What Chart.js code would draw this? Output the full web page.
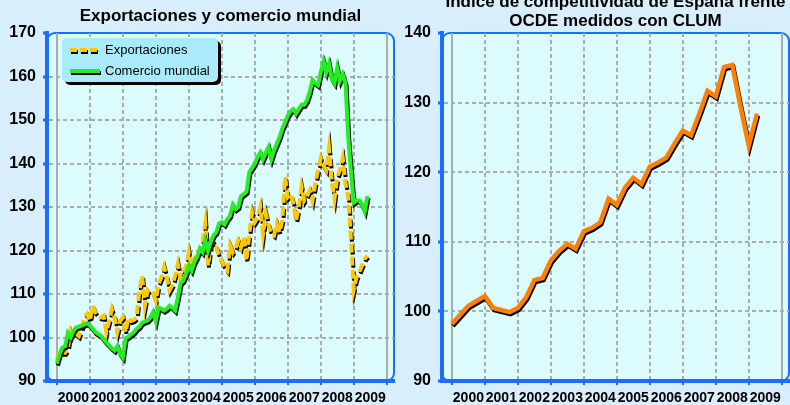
<!DOCTYPE html>
<html>
<head>
<meta charset="utf-8">
<script src="https://cdn.jsdelivr.net/npm/chart.js@4.4.0/dist/chart.umd.min.js"></script>
<style>
  body { margin: 0; background: #d8eefa; }
  .panel { position: absolute; top: 0; width: 395px; height: 405px; }
</style>
</head>
<body>
<div class="panel" style="left:0"><canvas id="exportChart" width="395" height="405"></canvas></div>
<div class="panel" style="left:395px"><canvas id="clumChart" width="395" height="405"></canvas></div>
<script>
// Year labels (placed in the middle of each year)
const YEARS = ['2000', '2001', '2002', '2003', '2004', '2005', '2006', '2007', '2008', '2009'];

// Monthly indices, Jan 2000 - Jun 2009
const exportaciones = [
    94.6, 97.3, 96.5, 96.5, 97.5, 101.5, 100.0, 100.8, 100.3, 102.0, 104.6, 105.4,
    103.8, 107.3, 105.8, 105.0, 104.6, 105.0, 101.2, 103.8, 106.5, 104.6, 101.2, 103.8,
    104.6, 101.2, 104.6, 103.8, 104.0, 104.6, 110.8, 114.2, 107.3, 110.8, 110.0, 110.2,
    108.5, 112.3, 113.8, 116.2, 113.8, 110.8, 112.0, 114.2, 116.9, 113.5, 115.0, 116.5,
    119.6, 116.2, 118.0, 119.6, 119.6, 121.9, 126.2, 116.5, 121.5, 121.9, 120.8, 118.8,
    117.5, 116.2, 115.4, 121.2, 119.6, 120.5, 122.3, 120.8, 123.1, 117.7, 123.8, 128.8,
    126.5, 127.5, 130.0, 123.8, 128.5, 125.8, 124.0, 123.5, 126.2, 124.2, 126.9, 136.9,
    132.3, 133.0, 131.0, 126.9, 130.0, 134.6, 131.5, 132.5, 133.8, 131.5, 135.4, 138.5,
    141.2, 139.5, 138.5, 143.5, 135.8, 131.9, 136.9, 138.5, 141.2, 135.4, 132.3, 122.3,
    111.0, 113.8, 115.0, 116.5, 118.1, 118.8
];
const comercioMundial = [
    94.0, 96.2, 97.7, 98.0, 101.0, 100.0, 101.5, 102.3, 102.5, 102.7, 103.0, 103.3,
    102.8, 102.0, 101.2, 100.8, 100.4, 99.6, 98.8, 98.2, 97.5, 97.0, 98.0, 96.2,
    95.4, 99.8, 100.2, 100.7, 101.2, 102.0, 102.5, 103.4, 103.7, 103.9, 104.6, 105.8,
    103.8, 106.9, 106.6, 106.2, 106.6, 107.3, 106.8, 106.2, 109.2, 112.5, 113.1, 114.6,
    116.5, 115.4, 117.3, 118.5, 120.4, 119.6, 122.3, 120.0, 122.0, 123.5, 124.2, 126.2,
    126.5, 126.0, 127.2, 128.0, 130.5, 129.5, 130.0, 132.5, 133.0, 133.5, 138.0, 139.0,
    140.0, 141.5, 142.5, 141.0, 142.5, 143.8, 141.0, 143.0, 144.5, 146.0, 148.0, 149.5,
    151.0, 152.0, 152.5, 151.5, 152.5, 153.5, 153.5, 154.5, 156.5, 159.2, 158.5, 158.0,
    161.0, 163.5, 161.0, 163.0, 159.5, 158.5, 162.0, 159.0, 160.5, 158.5, 146.0, 138.0,
    131.0, 131.5, 131.5, 130.5, 129.0, 132.5
];

// Quarterly index, 2000Q1 - 2009Q2
const competitividad = [
    98.2, 99.5, 100.8, 101.5, 102.2, 100.5, 100.2, 99.9,
    100.5, 102.0, 104.5, 104.8, 107.3, 108.7, 109.7, 109.0,
    111.5, 112.0, 112.8, 116.2, 115.3, 117.8, 119.2, 118.3,
    120.8, 121.4, 122.1, 124.1, 126.0, 125.3, 128.4, 131.7,
    130.9, 135.1, 135.4, 129.4, 123.8, 128.4
];

const FONT = "'Liberation Sans', Arial, sans-serif";
const BLUE = '#1a6dff';
const GRID = '#a8aeb0';
const PLOT_BG = '#dbfbfd';
const LEGEND_BG = '#a9ebfb';

// monthly / quarterly points onto a year axis
const perMonth = arr => arr.map((v, i) => ({ x: 2000 + i / 12, y: v }));
const perQuarter = arr => arr.map((v, i) => ({ x: 2000 + i / 4, y: v }));

// Plot background + thin rounded frame
const frame = {
    id: 'frame',
    beforeDraw(chart) {
        const { ctx, chartArea: a } = chart;
        ctx.save();
        ctx.beginPath();
        ctx.roundRect(a.left, a.top, a.right - a.left, a.bottom - a.top, 8);
        ctx.fillStyle = PLOT_BG;
        ctx.fill();
        ctx.lineWidth = 2;
        ctx.strokeStyle = BLUE;
        ctx.stroke();
        ctx.restore();
    }
};

// Hard black drop shadow under every line
const lineShadow = {
    id: 'lineShadow',
    beforeDatasetDraw(chart) {
        const ctx = chart.ctx;
        ctx.save();
        ctx.shadowColor = '#000';
        ctx.shadowOffsetX = 1;
        ctx.shadowOffsetY = 2;
        ctx.shadowBlur = 0;
    },
    afterDatasetDraw(chart) {
        chart.ctx.restore();
    }
};

// Boxed legend in the upper left of the plot
const boxLegend = {
    id: 'boxLegend',
    afterDraw(chart) {
        const { ctx, chartArea: a } = chart;
        const x = a.left + 15, y = a.top + 5, w = 156, h = 44;
        ctx.save();
        ctx.fillStyle = '#000';
        ctx.beginPath();
        ctx.roundRect(x + 3, y + 3, w, h, 5);
        ctx.fill();
        ctx.fillStyle = LEGEND_BG;
        ctx.beginPath();
        ctx.roundRect(x, y, w, h, 5);
        ctx.fill();
        chart.data.datasets.forEach((ds, i) => {
            const cy = y + 12 + i * 21;
            ctx.save();
            ctx.shadowColor = '#000';
            ctx.shadowOffsetX = 1;
            ctx.shadowOffsetY = 2;
            ctx.strokeStyle = ds.borderColor;
            ctx.lineWidth = 4;
            ctx.setLineDash(ds.borderDash ? [7, 3] : []);
            ctx.beginPath();
            ctx.moveTo(x + 8, cy);
            ctx.lineTo(x + 38, cy);
            ctx.stroke();
            ctx.restore();
            ctx.fillStyle = '#000';
            ctx.font = '13px ' + FONT;
            ctx.textBaseline = 'middle';
            ctx.fillText(ds.label, x + 43, cy);
        });
        ctx.restore();
    }
};

function yearAxis() {
    return {
        type: 'linear',
        min: 1999.7,
        max: 2010.22,
        afterBuildTicks: s => { s.ticks = YEARS.map(y => ({ value: Number(y) + 0.5 })); },
        afterFit: s => { s.height = 24; },
        ticks: {
            callback: (v, i) => YEARS[i],
            font: { family: FONT, size: 14, weight: 'bold' },
            color: '#000',
            padding: 5,
            maxRotation: 0,
            autoSkip: false
        },
        grid: {
            offset: true,
            color: GRID,
            lineWidth: 2,
            tickLength: 4,
            tickColor: BLUE,
            tickWidth: 2
        },
        border: {
            color: BLUE,
            width: 4,
            dash: c => (c.index > 0 && c.index < YEARS.length) ? [4, 3] : []
        }
    };
}

function valueAxis(min, max) {
    return {
        min: min,
        max: max,
        afterFit: s => { s.width = 47; },
        ticks: {
            stepSize: 10,
            font: { family: FONT, size: 16, weight: 'bold' },
            color: '#000',
            padding: 7
        },
        grid: {
            color: c => (c.tick && c.tick.value > min && c.tick.value < max) ? GRID : 'rgba(0,0,0,0)',
            lineWidth: 2,
            tickLength: 4,
            tickColor: BLUE,
            tickWidth: 3
        },
        border: { color: BLUE, width: 4, dash: [4, 3] }
    };
}

function titleOpts(text, top, bottom) {
    return {
        display: true,
        text: text,
        fullSize: false,
        color: '#000',
        font: { family: FONT, size: 17, weight: 'bold', lineHeight: 1.1 },
        padding: { top: top, bottom: bottom }
    };
}

new Chart(document.getElementById('exportChart'), {
    type: 'line',
    data: {
        datasets: [
            {
                label: 'Exportaciones',
                data: perMonth(exportaciones),
                borderColor: '#fcc800',
                borderWidth: 4,
                borderDash: [9, 4],
                order: 1
            },
            {
                label: 'Comercio mundial',
                data: perMonth(comercioMundial),
                borderColor: '#22ee22',
                borderWidth: 4,
                order: 0
            }
        ]
    },
    options: {
        responsive: false,
        animation: false,
        layout: { padding: { left: 0, right: 1, top: 0, bottom: 0 } },
        elements: { point: { radius: 0 }, line: { tension: 0 } },
        scales: { x: yearAxis(), y: valueAxis(90, 170) },
        plugins: {
            legend: { display: false },
            tooltip: { enabled: false },
            title: titleOpts('Exportaciones y comercio mundial', 7, 7.3)
        }
    },
    plugins: [frame, lineShadow, boxLegend]
});

new Chart(document.getElementById('clumChart'), {
    type: 'line',
    data: {
        datasets: [{
            label: 'Competitividad (CLUM)',
            data: perQuarter(competitividad),
            borderColor: '#ff8000',
            borderWidth: 4.5
        }]
    },
    options: {
        responsive: false,
        animation: false,
        layout: { padding: { left: 0, right: 1, top: 0, bottom: 0 } },
        elements: { point: { radius: 0 }, line: { tension: 0 } },
        scales: { x: yearAxis(), y: valueAxis(90, 140) },
        plugins: {
            legend: { display: false },
            tooltip: { enabled: false },
            title: titleOpts(['Índice de competitividad de España frente', 'OCDE medidos con CLUM'], -6.85, 2.45)
        }
    },
    plugins: [frame, lineShadow]
});
</script>
</body>
</html>
